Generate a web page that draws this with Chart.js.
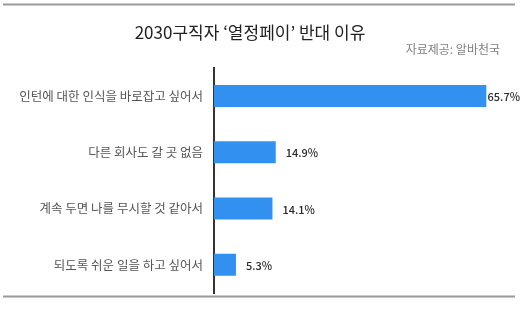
<!DOCTYPE html>
<html>
<head>
<meta charset="utf-8">
<script src="https://cdn.jsdelivr.net/npm/chart.js@4"></script>
<style>
  html, body { margin: 0; padding: 0; background: #fff; }
  #wrap { width: 527px; height: 312px; }
</style>
</head>
<body>
<div id="wrap"><canvas id="reasonsChart"></canvas></div>
<script>
const reasonLabels = [
  "인턴에 대한 인식을 바로잡고 싶어서",
  "다른 회사도 갈 곳 없음",
  "계속 두면 나를 무시할 것 같아서",
  "되도록 쉬운 일을 하고 싶어서",
];
const reasonPercents = [65.7, 14.9, 14.1, 5.3];

const KR_FONT = "'Noto Sans CJK KR', 'Noto Sans', sans-serif";

// top & bottom rules, value labels
const decorPlugin = {
  id: "decor",
  beforeDraw(chart) {
    const ctx = chart.ctx;
    ctx.save();
    ctx.strokeStyle = "#9a9a9a";
    ctx.lineWidth = 2;
    ctx.beginPath();
    ctx.moveTo(3, 4.5);
    ctx.lineTo(515, 4.5);
    ctx.moveTo(3, 296.5);
    ctx.lineTo(515, 296.5);
    ctx.stroke();
    ctx.restore();
  },
  afterDatasetsDraw(chart) {
    const ctx = chart.ctx;
    const meta = chart.getDatasetMeta(0);
    ctx.save();
    ctx.font = "500 11px " + KR_FONT;
    ctx.fillStyle = "#2a2a2a";
    ctx.textBaseline = "middle";
    meta.data.forEach((bar, i) => {
      const text = reasonPercents[i] + "%";
      const w = ctx.measureText(text).width;
      const x = Math.min(bar.x + 10, chart.width - 7 - w);
      ctx.fillText(text, x, bar.y + 1);
    });
    ctx.restore();
  },
};

const reasonsChart = new Chart(document.getElementById("reasonsChart"), {
  type: "bar",
  data: {
    labels: reasonLabels,
    datasets: [
      {
        data: reasonPercents,
        backgroundColor: "rgb(50, 145, 240)",
        borderWidth: 0,
        barPercentage: 0.78,
        categoryPercentage: 0.5,
      },
    ],
  },
  options: {
    indexAxis: "y",
    responsive: true,
    maintainAspectRatio: false,
    animation: false,
    layout: { padding: { top: 12, right: 27, bottom: 19, left: 0 } },
    scales: {
      x: { display: false, min: 0, max: 69 },
      y: {
        afterFit(scale) { scale.width = 214; },
        grid: { display: false, drawTicks: false },
        border: { display: true, color: "#333", width: 2 },
        ticks: {
          padding: 11,
          color: "#555",
          font: { family: KR_FONT, size: 12.5 },
        },
      },
    },
    plugins: {
      legend: { display: false },
      tooltip: { enabled: false },
      title: {
        display: true,
        text: "2030구직자 ‘열정페이’ 반대 이유",
        color: "#222",
        font: { family: KR_FONT, size: 17, weight: "normal" },
        padding: { top: 10, bottom: 0 },
      },
      subtitle: {
        display: true,
        text: "자료제공: 알바천국",
        align: "end",
        color: "#808080",
        font: { family: KR_FONT, size: 12 },
        padding: { top: 0, bottom: 11 },
      },
    },
  },
  plugins: [decorPlugin],
});
</script>
</body>
</html>
